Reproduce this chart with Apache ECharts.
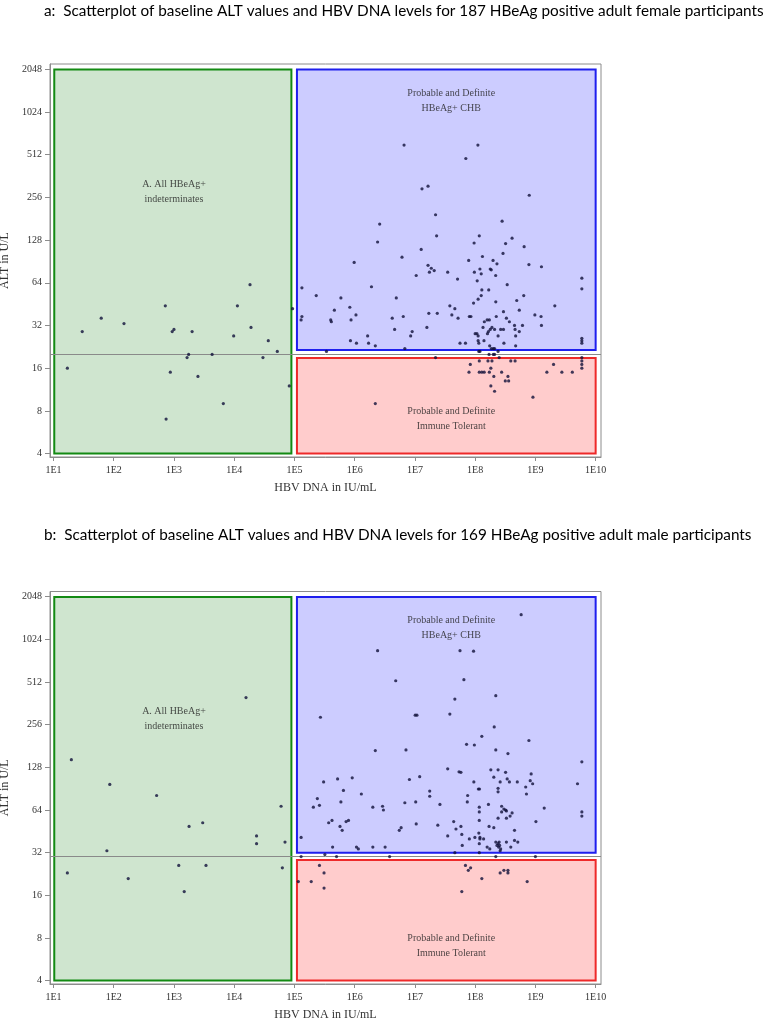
<!DOCTYPE html>
<html>
<head>
<meta charset="utf-8">
<script src="https://cdn.jsdelivr.net/npm/echarts@6/dist/echarts.min.js"></script>
<style>
html,body{margin:0;padding:0;background:#fff;}
#chart{width:768px;height:1020px;}
</style>
</head>
<body>
<div id="chart"></div>
<script>
// ---- Data: [HBV DNA (IU/mL), ALT (U/L)] ----
const femaleData = [
  // A. indeterminates
  [17,16],[30,29],[62,36],[148,33],[718,44],[740,7],[870,15],[935,29],[1000,30],[1650,19],[1750,20],[2000,29],[2500,14],[4300,20],[6600,9],[9800,27],[11300,44],[18300,62],[19000,31],[30000,19],[36800,25],[51900,21],[82000,12],[93000,42],
  // HBeAg+ CHB
  [6.6e6,598],[1.11e8,598],[7.0e7,481],[1.31e7,294],[1.65e7,307],[7.9e8,265],[2.2e7,193],[2.6e6,166],[2.8e8,174],[2.29e7,137],[1.17e8,137],[2.4e6,124],[4.1e8,132],[9.6e7,122],[3.2e8,121],[6.5e8,115],[1.27e7,110],[2.9e8,103],
  [6.1e6,97],[9.8e5,89],[7.8e7,92],[1.32e8,98],[1.98e8,92],[2.3e8,87],[7.8e8,86],[1.26e9,83],[1.65e7,85],[1.87e7,81],[2.09e7,78],[1.74e7,76],[3.5e7,76],[9.7e7,76],[1.26e8,74],[1.2e8,80],[1.78e8,80],[1.85e8,79],[2.19e8,72],[1.05e7,72],[5.1e7,68],[5.9e9,69],[5.9e9,58],[1.08e8,66],[3.4e8,62],[1.33e5,59],[1.9e6,60],[1.29e8,57],[1.68e8,57],[2.3e5,52],[5.9e5,50],[4.9e6,50],[1.26e8,52],[1.12e8,49],[6.4e8,52],[4.9e8,48],[2.2e8,47],[9.4e7,46],[2.1e9,44],[8.3e5,43],[3.8e7,44],[4.6e7,42],[5.4e8,41],[4.6e5,41],[2.95e8,40],[1.7e7,39],[2.35e7,39],[4.1e7,38],[1.05e6,38],[1.33e5,37],[1.29e5,35],[9.8e8,38],[1.24e9,37],[1.26e9,32],[2.24e8,37],[3.3e8,36],[3.7e8,34],[5.2e7,36],[8.0e7,37],[8.5e7,37],[4.0e5,35],[4.1e5,34],[8.7e5,35],[4.2e6,36],[6.4e6,37],[1.42e8,34],[1.58e8,35],[1.72e8,35],[1.35e8,31],[4.5e8,32],[6.1e8,32],[5.4e8,29],[4.6e8,30],[4.7e8,27],[4.7e8,23],[2.95e8,30],[2.65e8,30],[2.4e8,27],[2.1e8,30],[1.78e8,30],[1.66e8,29],[3.0e8,24],[4.6e6,30],[9.0e6,29],[8.5e6,27],[1.58e7,31],[1.64e6,27],[8.5e5,25],[1.07e6,24],[1.7e6,24],[2.2e6,23],[6.8e6,22],[3.4e5,21],[5.6e7,24],[6.9e7,24],[1.07e8,28],[1.0e8,28],[1.12e8,27],[1.12e8,25],[1.15e8,24],[1.74e8,23],[1.86e8,22],[2.0e8,22],[2.1e8,22],[2.4e8,21],[1.15e8,21],[1.2e8,21],[1.4e8,25],[1.6e8,28],[1.9e8,31],[5.9e9,26],[5.9e9,25],[5.9e9,24],
  // on the ULN line
  [2.2e7,19],[1.7e8,20],[2.0e8,20],[2.1e8,20],[2.5e8,19],
  // Immune tolerant
  [8.3e7,17],[7.9e7,15],[1.17e8,18],[1.17e8,15],[1.29e8,15],[1.41e8,15],[1.63e8,18],[1.9e8,18],[1.82e8,16],[1.72e8,15],[2.04e8,14],[1.82e8,12],[2.1e8,11],[2.75e8,15],[3.5e8,14],[3.16e8,13],[3.6e8,13],[3.9e8,18],[4.6e8,18],[9.1e8,10],[1.55e9,15],[2.0e9,17],[2.75e9,15],[4.1e9,15],[5.9e9,19],[5.9e9,18],[5.9e9,17],[5.9e9,16],[2.2e6,9]
];

const maleData = [
  // A. indeterminates
  [15700,398],[19.8,145],[86,97],[515,81],[60000,68],[1780,49],[3000,52],[23500,42],[23500,37],[69700,38],[77,33],[17,23],[174,21],[1200,26],[3400,26],[1480,17],[63000,25],
  // HBeAg+ CHB
  [5.8e8,1530],[2.4e6,852],[5.6e7,852],[9.4e7,845],[4.8e6,523],[6.5e7,532],[4.6e7,388],[2.2e8,410],[2.7e5,289],[1.01e7,299],[1.08e7,299],[3.8e7,304],[2.07e8,247],[1.29e8,212],[7.8e8,198],[7.2e7,186],[9.7e7,184],[2.2e6,168],[7.1e6,170],[2.2e8,170],[3.5e8,160],[5.9e9,140],[5.0e9,98],[3.5e7,125],[5.4e7,119],[5.8e7,118],[1.82e8,123],[2.4e8,123],[3.2e8,118],[2.04e8,109],[3.4e8,106],[8.5e8,115],[8.2e8,103],[9.0e8,98],[6.9e8,93],[5.0e8,101],[2.6e8,101],[3.7e8,101],[9.5e7,101],[1.13e8,90],[1.18e8,90],[2.4e8,91],[2.4e8,86],[7.1e8,83],[1.76e7,87],[1.76e7,80],[7.5e7,81],[8.1e6,105],[1.2e7,110],[3.05e5,101],[5.2e5,106],[9.1e5,108],[6.5e5,88],[1.29e6,83],[2.4e5,77],
  [2.06e5,67],[2.6e5,69],[5.9e5,73],[2.0e6,67],[2.9e6,68],[3.0e6,64],[6.8e6,72],[1.03e7,73],[2.6e7,70],[3.7e5,52],[4.2e5,54],[5.7e5,49],[6.2e5,46],[7.2e5,53],[7.9e5,54],[5.5e6,46],[5.9e6,48],[1.05e7,51],[2.4e7,50],[3.5e7,42],[1.29e5,41],[4.3e5,35],[1.07e6,35],[1.15e6,34],[2.0e6,35],[3.2e6,35],[3.2e5,31],
  [4.4e7,53],[4.8e7,47],[5.8e7,49],[6.0e7,43],[6.1e7,36],[7.4e7,73],[8.0e7,40],[9.9e7,41],[1.15e8,44],[1.17e8,67],[1.17e8,62],[1.17e8,54],[1.2e8,41],[1.2e8,40],[1.17e8,37],[1.38e8,40],[1.66e8,70],[1.7e8,49],[2.04e8,48],[1.58e8,35],[1.75e8,34],[2.2e8,38],[2.3e8,36],[2.4e8,37],[2.45e8,35],[2.5e8,38],[2.55e8,36],[2.6e8,33],[2.65e8,34],[2.4e8,56],[2.75e8,68],[2.75e8,62],[3.2e8,64],[3.0e8,65],[3.3e8,63],[3.8e8,58],[4.1e8,61],[3.3e8,56],[4.5e8,46],[4.5e8,39],[5.1e8,38],[3.3e8,38],[3.9e8,35],[1.4e9,66],[1.02e9,53],[5.9e9,62],[5.9e9,58],[4.6e7,32],[1.17e8,32],
  // on the ULN line
  [1.29e5,30],[5.0e5,30],[3.8e6,30],[2.2e8,30],[1.0e9,30],
  // Immune tolerant
  [2.6e5,26],[3.1e5,23],[1.16e5,20],[1.9e5,20],[3.1e5,18],[6.9e7,26],[8.4e7,25],[7.7e7,24],[1.29e8,21],[6.0e7,17],[2.6e8,23],[3.0e8,24],[3.5e8,24],[3.5e8,23],[7.3e8,20]
];

const xTickValues = [1e1,1e2,1e3,1e4,1e5,1e6,1e7,1e8,1e9,1e10];
const yTickValues = [4,8,16,32,64,128,256,512,1024,2048];
const titles = [
  'a:  Scatterplot of baseline ALT values and HBV DNA levels for 187 HBeAg positive adult female participants',
  'b:  Scatterplot of baseline ALT values and HBV DNA levels for 169 HBeAg positive adult male participants'
];
const ulnALT = [20, 30];          // horizontal reference line (U/L)
const regionText = ['A. All HBeAg+\nindeterminates', 'Probable and Definite\nHBeAg+ CHB', 'Probable and Definite\nImmune Tolerant'];

// ---- Layout ----
const gridTops = [64, 591.5];
const gridH = [393, 392.5];
const serif = 'Liberation Serif';
const xMin = 8.75, xMax = 1.227e10, yMin = 3.784, yMax = 2230;
const blueBottom = [21.5, 32], redTop = [18.9, 28.4];

const chart = echarts.init(document.getElementById('chart'));
const grids = [], xAxes = [], yAxes = [], series = [], titleComps = [];

[femaleData, maleData].forEach((data, i) => {
  titleComps.push({
    text: titles[i], left: 44, top: i === 0 ? 4 : 528, padding: 0,
    textStyle: {fontFamily: 'Lato', fontSize: 15.3, fontWeight: 'normal', color: '#000'}
  });
  grids.push({left: 50, top: gridTops[i], width: 551, height: gridH[i], show: true,
    containLabel: false, outerBoundsMode: 'none',
    borderColor: '#8c8c8c', borderWidth: 1, backgroundColor: 'transparent'});
  xAxes.push({
    type: 'log', logBase: 10, gridIndex: i, min: xMin, max: xMax,
    name: 'HBV DNA in IU/mL', nameLocation: 'middle', nameGap: 25,
    nameTextStyle: {fontFamily: serif, fontSize: 12, color: '#333'},
    axisLine: {show: true, lineStyle: {color: '#8c8c8c', width: 1}},
    axisTick: {show: true, customValues: xTickValues, length: 4, lineStyle: {color: '#8c8c8c'}},
    axisLabel: {customValues: xTickValues, margin: 8, fontFamily: serif, fontSize: 10, color: '#333',
      formatter: v => '1E' + Math.round(Math.log10(v))},
    splitLine: {show: false}, minorTick: {show: false}
  });
  yAxes.push({
    type: 'log', logBase: 2, gridIndex: i, min: yMin, max: yMax,
    name: 'ALT in U/L', nameLocation: 'middle', nameGap: 35,
    nameTextStyle: {fontFamily: serif, fontSize: 12, color: '#333'},
    axisLine: {show: true, lineStyle: {color: '#8c8c8c', width: 1}},
    axisTick: {show: true, customValues: yTickValues, length: 5, lineStyle: {color: '#8c8c8c'}},
    axisLabel: {customValues: yTickValues, margin: 8, fontFamily: serif, fontSize: 10, color: '#333',
      formatter: v => String(Math.round(v))},
    splitLine: {show: false}, minorTick: {show: false}
  });
  series.push({
    type: 'scatter', xAxisIndex: i, yAxisIndex: i, data: [], silent: true, z: 1,
    markArea: {
      silent: true,
      data: [
        [{coord: [10.3, 4], itemStyle: {color: '#cfe5cf', borderColor: '#138a13', borderWidth: 2}}, {coord: [8.9e4, 2040]}],
        [{coord: [1.1e5, blueBottom[i]], itemStyle: {color: '#ccccff', borderColor: '#1f1fee', borderWidth: 2}}, {coord: [1e10, 2040]}],
        [{coord: [1.1e5, 4], itemStyle: {color: '#ffcccc', borderColor: '#ee2a2a', borderWidth: 2}}, {coord: [1e10, redTop[i]]}]
      ],
      label: {show: false}
    },
    markLine: {
      silent: true, symbol: 'none', z: 3,
      lineStyle: {color: '#8a8a8a', width: 1, type: 'solid'},
      label: {show: false},
      data: [{yAxis: ulnALT[i]}]
    }
  });
  const captionPos = [[1e3, 280], [4e7, 1226], [4e7, 7]];
  captionPos.forEach((p, k) => {
    series.push({
      type: 'scatter', xAxisIndex: i, yAxisIndex: i, symbolSize: 0, silent: true, z: 4,
      data: [p],
      label: {show: true, position: 'inside', formatter: regionText[k], fontFamily: serif,
        fontSize: 10, lineHeight: 15, color: '#222', align: 'center', verticalAlign: 'middle'}
    });
  });
  series.push({
    type: 'scatter', xAxisIndex: i, yAxisIndex: i, data: data, symbolSize: 3.2, z: 6,
    itemStyle: {color: '#10103a'}, silent: true
  });
});

chart.setOption({
  backgroundColor: '#fff',
  animation: false,
  title: titleComps,
  grid: grids,
  xAxis: xAxes,
  yAxis: yAxes,
  series: series
});
</script>
</body>
</html>
